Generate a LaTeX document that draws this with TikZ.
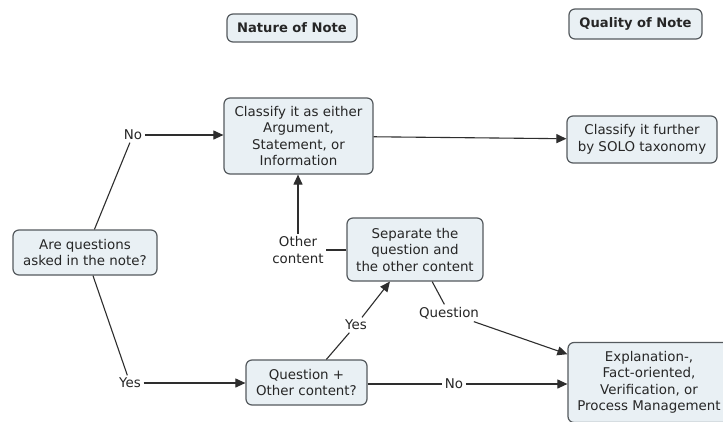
\documentclass[tikz,border=0pt]{standalone}
\usepackage{fontspec}
\setmainfont{DejaVu Sans}
\usetikzlibrary{arrows.meta}
\definecolor{boxfill}{HTML}{E9F0F4}
\definecolor{boxline}{HTML}{555A5E}
\definecolor{linkc}{HTML}{2E2E2E}
\begin{document}
\begin{tikzpicture}[x=1pt,y=-1pt,
  every node/.style={font=\fontsize{13.4}{16.5}\selectfont, text=black!85},
  conc/.style={draw=boxline, line width=1.2pt, fill=boxfill, rounded corners=6pt, align=center, inner sep=2pt},
  lab/.style={fill=white, inner sep=2.5pt, align=center},
  conn/.style={draw=linkc, line width=1.1pt},
  arr/.style={conn, -{Triangle[length=10pt,width=9pt]}}]
\useasboundingbox (0,0) rectangle (723,421);
\fill[white] (0,0) rectangle (723,421);
% concepts
\node[conc, minimum width=130pt, minimum height=28pt, font=\bfseries\fontsize{13.1}{15}\selectfont] (nature) at (292,28) {Nature of Note};
\node[conc, minimum width=133pt, minimum height=30pt, font=\bfseries\fontsize{13.1}{15}\selectfont] (quality) at (635.5,24) {Quality of Note};
\node[conc, minimum width=149pt, minimum height=76pt] (classify) at (298.5,136) {Classify it as either\\Argument,\\Statement, or\\Information};
\node[conc, minimum width=150pt, minimum height=47pt] (further) at (642,139.5) {Classify it further\\by SOLO taxonomy};
\node[conc, minimum width=144pt, minimum height=45pt] (are) at (85,252.5) {Are questions\\asked in the note?};
\node[conc, minimum width=136pt, minimum height=63pt] (separate) at (415,249.5) {Separate the\\question and\\the other content};
\node[conc, minimum width=121pt, minimum height=45pt] (qplus) at (306.5,382.5) {Question +\\Other content?};
\node[conc, minimum width=162pt, minimum height=80pt] (expl) at (649,382.5) {Explanation-,\\Fact-oriented,\\Verification, or\\Process Management};
% linking phrases
\node[lab] (lno1) at (133,135) {No};
\node[lab] (lyes1) at (130,383) {Yes};
\node[lab] (lother) at (298,250) {Other\\content};
\node[lab] (lyes2) at (356,325) {Yes};
\node[lab] (lquest) at (449,313) {Question};
\node[lab] (lno2) at (454,384) {No};
% connectors
\draw[conn] (are) -- (lno1);
\draw[arr] (lno1) -- (lno1 -| classify.west);
\draw[conn] (are) -- (lyes1);
\draw[arr] (lyes1) -- (lyes1 -| qplus.west);
\draw[arr] (classify) -- (further);
\draw[conn] (qplus) -- (lyes2);
\draw[arr] (lyes2) -- (separate);
\draw[conn] (separate) -- (lquest);
\draw[arr] (lquest) -- (expl);
\draw[conn] (qplus.east |- lno2) -- (lno2);
\draw[arr] (lno2) -- (lno2 -| expl.west);
\draw[conn] (separate.west |- lother) -- (lother);
\draw[arr] (lother) -- (lother |- classify.south);
\end{tikzpicture}
\end{document}
